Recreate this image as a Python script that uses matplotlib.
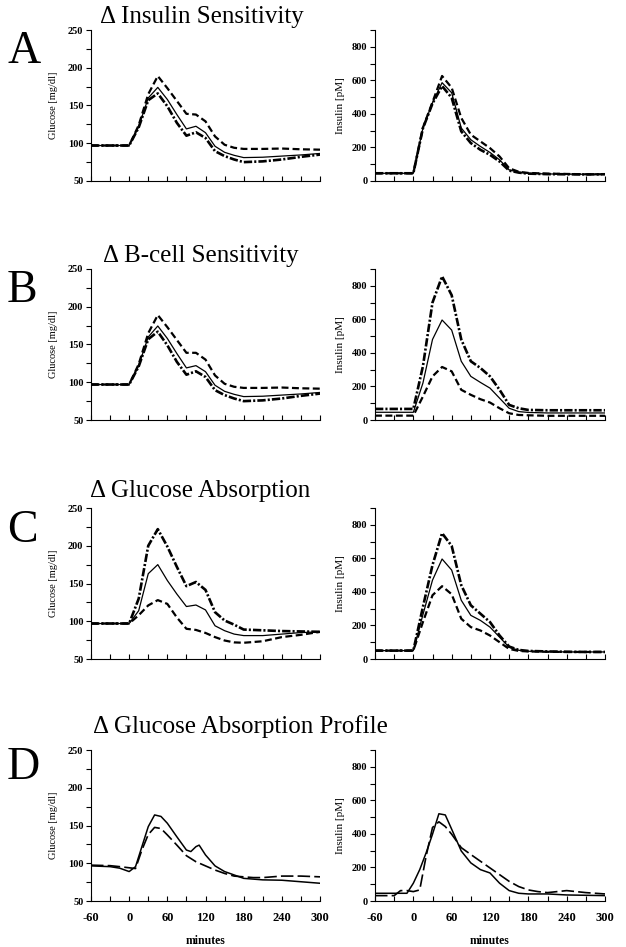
import numpy as np
import matplotlib
matplotlib.use("Agg")
import matplotlib.pyplot as plt
from matplotlib.ticker import MultipleLocator

plt.rcParams['font.family'] = ['Liberation Serif', 'DejaVu Serif']
plt.rcParams['lines.scale_dashes'] = False
plt.rcParams['axes.unicode_minus'] = False

# model output times (min)
t = [-60, 0, 15, 30, 45, 60, 75, 90, 105, 120, 135, 150, 165, 180, 210, 240, 270, 300]

# A: insulin sensitivity
glu_a_solid = [97, 97, 122, 160, 174, 158, 138, 119, 122.5, 114, 96, 88, 84, 81, 81.5, 83, 84.5, 86.5]
glu_a_dash = [97, 97, 124, 165, 189, 173, 156, 139, 138, 129, 109, 98, 94, 92.5, 92.5, 93, 92, 91.5]
glu_a_dashdot = [97, 97, 121, 157, 166, 149, 127, 110, 114.5, 107, 89.5, 83, 78.5, 75, 76, 78.5, 82, 85]
ins_a_solid = [46, 46, 316, 466, 586, 526, 316, 246, 206, 170, 126, 66, 52, 45, 42, 41, 40, 40]
ins_a_dash = [46, 46, 318, 470, 626, 556, 376, 276, 236, 196, 146, 76, 55, 48, 44, 42, 40, 40]
ins_a_dashdot = [46, 46, 314, 462, 566, 496, 296, 226, 186, 156, 116, 62, 50, 44, 41, 40, 39, 40]

# B: beta-cell sensitivity
glu_b_solid = [97, 97, 122, 160, 174.5, 158, 138, 119, 122, 114, 96, 88, 84, 81, 81.5, 83, 84.5, 86.5]
glu_b_dash = [97, 97, 124, 165, 189, 173, 156, 139, 139, 130, 109, 98, 94, 92.5, 92.5, 93, 92, 91.5]
glu_b_dashdot = [97, 97, 121, 157, 167, 149, 127, 110, 114.5, 107, 89.5, 83, 78.5, 75, 76, 78.5, 82, 85]
ins_b_solid = [46, 46, 220, 480, 596, 536, 350, 260, 224, 190, 130, 70, 50, 45, 42, 42, 42, 42]
ins_b_dash = [26, 26, 140, 260, 316, 290, 180, 150, 124, 104, 70, 40, 30, 28, 25, 25, 25, 25]
ins_b_dashdot = [66, 66, 320, 700, 856, 744, 480, 350, 310, 260, 180, 90, 70, 60, 58, 58, 58, 58]

# C: glucose absorption
glu_c_solid = [97, 97, 114, 163, 175, 154, 136, 119.5, 121.5, 115, 94, 87.5, 83, 81, 81, 83, 85, 86]
glu_c_dash = [97, 97, 108, 121, 128, 123, 105, 90, 88.5, 84.5, 79, 74.5, 72, 71.5, 73.5, 79, 82, 86]
glu_c_dashdot = [97, 97, 130, 200, 222, 199, 172, 146.5, 152, 141.5, 112, 101, 95.5, 89, 88, 87, 86.5, 86]
ins_c_solid = [50, 50, 264, 470, 596, 530, 350, 260, 230, 190, 130, 70, 52, 46, 44, 42, 42, 42]
ins_c_dash = [50, 50, 220, 380, 434, 386, 240, 190, 170, 140, 100, 60, 48, 45, 43, 42, 42, 42]
ins_c_dashdot = [50, 50, 310, 560, 750, 674, 440, 320, 270, 220, 140, 74, 54, 48, 45, 43, 42, 42]

# D: glucose absorption profile
t_d_glu_solid = [-60, -30, -15, 0, 10, 20, 30, 40, 50, 60, 75, 90, 97, 105, 110, 120, 135, 150, 165, 180, 210, 240, 270, 300]
glu_d_solid = [96.5, 95.5, 93.5, 89, 95.5, 122, 148.5, 164, 162, 153, 135, 117.5, 115.5, 122, 124, 111, 96.5, 89, 84.5, 80, 78, 77.5, 75.5, 73.5]
t_d_glu_dash = [-60, -30, -15, 0, 10, 20, 30, 40, 50, 60, 75, 90, 105, 120, 135, 150, 165, 180, 195, 210, 240, 270, 300]
glu_d_dash = [97.5, 96.8, 95.5, 94, 93, 117.5, 138, 147.5, 146, 137.5, 124, 110, 102, 96.5, 91, 86.5, 83, 82, 81, 81, 83, 83, 82]
t_d_ins_solid = [-60, -10, 0, 10, 20, 30, 40, 50, 60, 75, 90, 105, 120, 135, 150, 165, 180, 210, 240, 270, 300]
ins_d_solid = [46, 46, 106, 187, 287, 398, 520, 513, 428, 298, 227, 187, 167, 106, 62, 46, 42, 42, 36, 34, 32]
t_d_ins_dash = [-60, -30, -20, -10, 0, 10, 20, 30, 40, 50, 60, 75, 90, 105, 120, 135, 150, 165, 180, 195, 210, 240, 270, 300]
ins_d_dash = [32, 32, 62, 62, 56, 66, 267, 438, 472, 444, 398, 318, 277, 237, 197, 157, 117, 86, 66, 56, 50, 62, 50, 42]

titles = ['\u0394 Insulin Sensitivity', '\u0394 B-cell Sensitivity',
          '\u0394 Glucose Absorption', '\u0394 Glucose Absorption Profile']
letters = ['A', 'B', 'C', 'D']

# line styles
SOLID = dict(color='black', lw=0.9, ls='-')
DASH = dict(color='black', lw=1.6, ls=(0, (5, 2.5)))
DASHDOT = dict(color='black', lw=1.9, ls=(0, (6, 1.5, 1.5, 1.5)))
LONGDASH = dict(color='black', lw=1.2, ls=(0, (9, 3)))

W, H = 626, 947
fig = plt.figure(figsize=(W / 100, H / 100), dpi=100)

def px_axes(x0, top, w, h):
    return fig.add_axes([x0 / W, 1 - (top + h) / H, w / W, h / H])

def style(ax, glucose, bottom):
    ax.spines['top'].set_visible(False)
    ax.spines['right'].set_visible(False)
    ax.set_xlim(-60, 300)
    ax.xaxis.set_major_locator(MultipleLocator(60))
    ax.xaxis.set_minor_locator(MultipleLocator(30))
    if glucose:
        ax.set_ylim(50, 250)
        ax.yaxis.set_major_locator(MultipleLocator(50))
        ax.yaxis.set_minor_locator(MultipleLocator(25))
        ax.set_ylabel('Glucose [mg/dl]', fontsize=7.5, labelpad=7)
    else:
        ax.set_ylim(0, 900)
        ax.set_yticks([0, 200, 400, 600, 800])
        ax.yaxis.set_minor_locator(MultipleLocator(100))
        ax.set_ylabel('Insulin [pM]', fontsize=8, labelpad=5)
    ax.tick_params(axis='y', which='both', direction='out', length=3.5, width=0.8,
                   labelsize=7.5, pad=2)
    ax.tick_params(axis='x', which='both', direction='in', length=3.5, width=0.8,
                   labelsize=9, pad=8)
    for lab in ax.get_yticklabels():
        lab.set_fontweight('bold')
    if bottom:
        for lab in ax.get_xticklabels():
            lab.set_fontweight('bold')
        ax.set_xlabel('minutes', fontsize=8.5, fontweight='bold', labelpad=8)
    else:
        ax.tick_params(axis='x', labelbottom=False)

tops = [30, 269, 508, 750]
title_x = [100, 103, 90, 93]
title_base = [23, 262, 497, 733]
letter_base = [63, 302, 542, 779]

glu_sets = [(glu_a_solid, glu_a_dash, glu_a_dashdot),
            (glu_b_solid, glu_b_dash, glu_b_dashdot),
            (glu_c_solid, glu_c_dash, glu_c_dashdot)]
ins_sets = [(ins_a_solid, ins_a_dash, ins_a_dashdot),
            (ins_b_solid, ins_b_dash, ins_b_dashdot),
            (ins_c_solid, ins_c_dash, ins_c_dashdot)]

for i in range(4):
    axg = px_axes(91, tops[i], 229, 151)
    axi = px_axes(375, tops[i], 230, 151)
    if i < 3:
        s, d, dd = glu_sets[i]
        axg.plot(t, dd, **DASHDOT)
        axg.plot(t, d, **DASH)
        axg.plot(t, s, **SOLID)
        s, d, dd = ins_sets[i]
        axi.plot(t, dd, **DASHDOT)
        axi.plot(t, d, **DASH)
        axi.plot(t, s, **SOLID)
    else:
        axg.plot(t_d_glu_dash, glu_d_dash, **LONGDASH)
        axg.plot(t_d_glu_solid, glu_d_solid, color='black', lw=1.1)
        axi.plot(t_d_ins_dash, ins_d_dash, **LONGDASH)
        axi.plot(t_d_ins_solid, ins_d_solid, color='black', lw=1.1)
    style(axg, True, i == 3)
    style(axi, False, i == 3)
    fig.text(title_x[i] / W, 1 - title_base[i] / H, titles[i], fontsize=18,
             ha='left', va='baseline')
    fig.text(7 / W, 1 - letter_base[i] / H, letters[i], fontsize=33,
             ha='left', va='baseline')

fig.savefig('out.png', dpi=100)
